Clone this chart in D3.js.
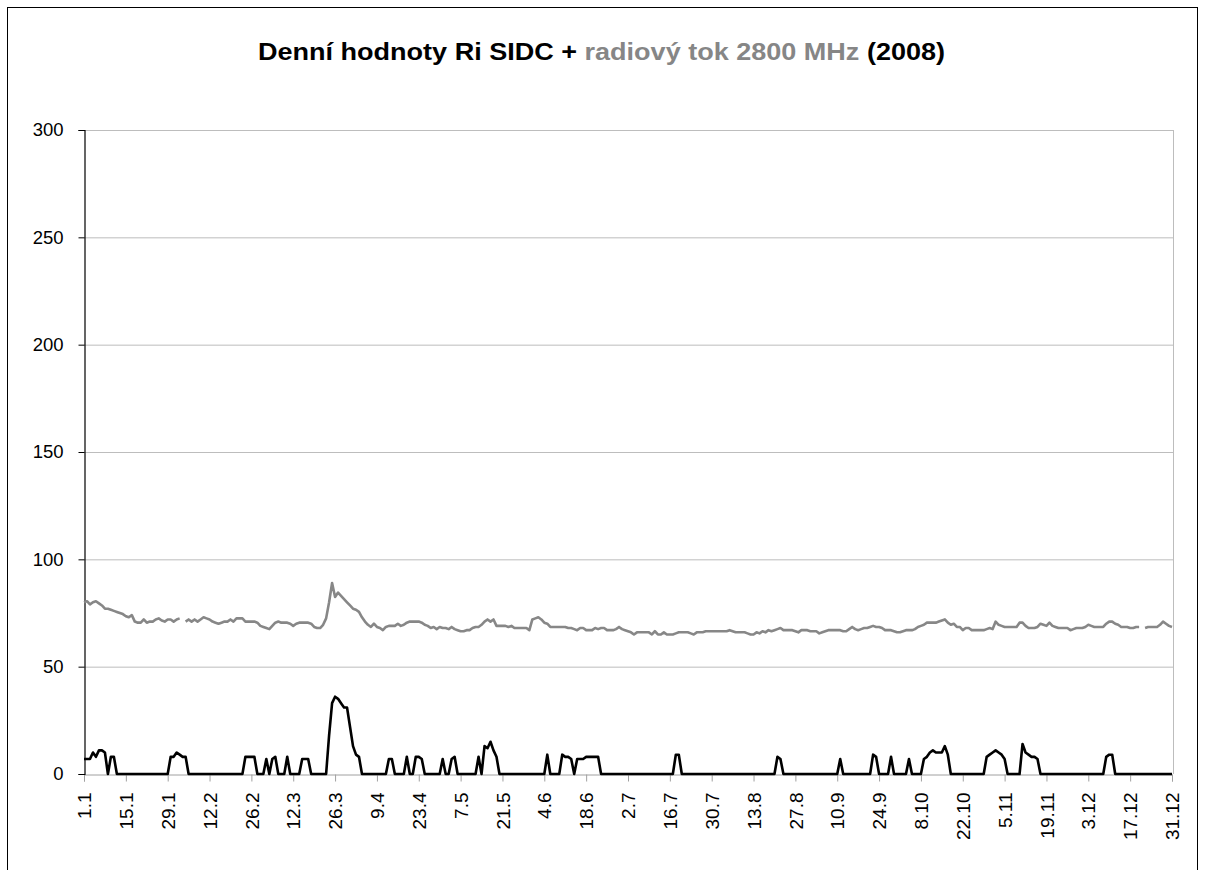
<!DOCTYPE html>
<html>
<head>
<meta charset="utf-8">
<script src="https://cdnjs.cloudflare.com/ajax/libs/d3/7.8.5/d3.min.js"></script>
<style>
  body { margin: 0; background: #fff; }
  svg { display: block; font-family: "Liberation Sans", Arial, sans-serif; }
</style>
</head>
<body>
<div id="chart"></div>
<script>
// days per month, the sheet has 365 rows
var month_days = [31, 28, 31, 30, 31, 30, 31, 31, 30, 31, 30, 31];

// daily Ri SIDC, one row per month
var ri_sidc = [].concat(
  [7,7,7,10,8,11,11,10,0,8, 8,0,0,0,0,0,0,0,0,0, 0,0,0,0,0,0,0,0,0,8, 8],
  [10,9,8,8,0,0,0,0,0,0, 0,0,0,0,0,0,0,0,0,0, 0,0,0,8,8,8,8,0],
  [0,0,7,0,7,8,0,0,0,8, 0,0,0,0,7,7,7,0,0,0, 0,0,0,18,33,36,35,33,31,31, 22],
  [13,9,8,0,0,0,0,0,0,0, 0,0,7,7,0,0,0,0,8,0, 0,8,8,7,0,0,0,0,0,0],
  [7,0,0,7,8,0,0,0,0,0, 0,0,8,0,13,12,15,11,8,0, 0,0,0,0,0,0,0,0,0,0, 0],
  [0,0,0,0,9,0,0,0,0,9, 8,8,7,0,7,7,7,8,8,8, 8,8,0,0,0,0,0,0,0,0],
  [0,0,0,0,0,0,0,0,0,0, 0,0,0,0,0,0,0,9,9,0, 0,0,0,0,0,0,0,0,0,0, 0],
  [0,0,0,0,0,0,0,0,0,0, 0,0,0,0,0,0,0,0,0,0, 8,7,0,0,0,0,0,0,0,0, 0],
  [0,0,0,0,0,0,0,0,0,0, 7,0,0,0,0,0,0,0,0,0, 0,9,8,0,0,0,0,8,0,0],
  [0,0,0,7,0,0,0,0,7,8, 10,11,10,10,10,13,9,0,0,0, 0,0,0,0,0,0,0,0,0,8, 9],
  [10,11,10,9,7,0,0,0,0,0, 14,10,9,8,8,7,0,0,0,0, 0,0,0,0,0,0,0,0,0,0],
  [0,0,0,0,0,0,0,0,8,9, 9,0,0,0,0,0,0,0,0,0, 0,0,0,0,0,0,0,0,0,0, 0]
);

// daily radio flux 2800 MHz (null = missing day)
var radio_flux = [].concat(
  [80,80.5,79,80,80.5,79.5,78.5,77,77,76.5, 76,75.5,75,74.5,73.5,73,74,71,70.5,70.5, 72,70.5,71,71,72,72.5,71.5,71,72,72, 71],
  [72,72.5,null,71,72,71,72,71,72,73, 72.5,72,71,70.5,70,70.5,71,71,72,71, 72.5,72.5,72.5,71,71,71,71,70.5],
  [69,68.5,68,67.5,69,70.5,71,70.5,70.5,70.5, 70,69,70,70.5,70.5,70.5,70.5,70,68.5,68, 68,69.5,72.5,80,89,82.5,84.5,83,81.5,80, 78.5],
  [77,76.5,75.5,73,71,69.5,68.5,70,68.5,68, 67,68.5,69,69,69,70,69,69.5,70.5,71, 71,71,71,70.5,69.5,69,68,68.5,67.5,68.5],
  [68,68,67.5,68.5,67.5,67,66.5,66.5,67,67, 68,68.5,68.5,69.5,71,72,71,72,69,69, 69,69,68.5,69,68,68,68,68,68,67, 72],
  [72.5,73,72,70.5,70,68.5,68.5,68.5,68.5,68.5, 68.5,68,68,67.5,67,68,68,67,67,67, 68,67.5,68,68,67,67,67,67.5,68.5,67.5],
  [67,66.5,66,65,66,66,66,66,66,65, 66.5,65,65,66,65,65,65,65.5,66,66, 66,66,65.5,65,66,66,66,66.5,66.5,66.5, 66.5],
  [66.5,66.5,66.5,66.5,67,66.5,66,66,66,66, 65.5,65,65,66,65.5,66.5,66,67,66.5,67, 67.5,68,67,67,67,67,66.5,66,67,67, 67],
  [66.5,66.5,66.5,65.5,66,66.5,67,67,67,67, 67,66.5,66.5,67.5,68.5,67.5,67,67.5,68,68, 68.5,69,68.5,68.5,68,67,67,67,66.5,66],
  [66,66.5,67,67,67,67.5,68.5,69,69.5,70.5, 70.5,70.5,70.5,71,71.5,72,70.5,69.5,70,68.5, 68.5,67,68,68,67,67,67,67,67,67.5, 68],
  [67.5,71,69.5,69,68.5,68.5,68.5,68.5,68.5,70.5, 70.5,69,68,68,68,68.5,70,69.5,69,70.5, 69,68.5,68,68,68,68,67,67.5,68,68],
  [68,68.5,69.5,69,68.5,68.5,68.5,68.5,70,71, 71,70,69.5,68.5,68.5,68.5,68,68,68.5,68.5, null,68,68.5,68.5,68.5,68.5,69.5,71,70,69, 68.5]
);

var y_ticks = [0, 50, 100, 150, 200, 250, 300];
var label_step = 14;

var chart_width = 1206, chart_height = 870;
var plot_left = 84, plot_right = 1172, plot_top = 130, plot_bottom = 774;

// category names d.m
var dates = [];
month_days.forEach(function(n, m) {
  for (var d = 1; d <= n; d++) dates.push(d + '.' + (m + 1));
});
var label_dates = dates.filter(function(d, i) { return i % label_step === 0; });

var svg = d3.select('#chart')
  .append('svg')
  .attr('width', chart_width)
  .attr('height', chart_height);

svg.append('rect')
  .attr('width', chart_width).attr('height', chart_height)
  .attr('fill', '#fff');

// outer frame (bottom edge is outside the picture)
svg.append('rect')
  .attr('x', 7.5).attr('y', 7.5)
  .attr('width', 1190).attr('height', 900)
  .attr('fill', 'none')
  .attr('stroke', '#000')
  .attr('stroke-width', 1);

var x_scale = d3.scalePoint()
  .domain(dates)
  .range([plot_left, plot_right]);

var y_scale = d3.scaleLinear()
  .domain([0, 300])
  .range([plot_bottom, plot_top]);

// grid
svg.append('g')
  .attr('class', 'grid')
  .selectAll('line')
  .data(y_ticks.filter(function(t) { return t > 0; }))
  .enter()
  .append('line')
  .attr('x1', plot_left).attr('x2', plot_right + 1)
  .attr('y1', function(d) { return y_scale(d) + 0.5; })
  .attr('y2', function(d) { return y_scale(d) + 0.5; })
  .attr('stroke', '#bdbdbd')
  .attr('stroke-width', 1);

// right border of plot area
svg.append('line')
  .attr('x1', plot_right + 1.5).attr('x2', plot_right + 1.5)
  .attr('y1', plot_top).attr('y2', plot_bottom)
  .attr('stroke', '#bdbdbd');

// x axis
var x_axis = d3.axisBottom(x_scale)
  .tickValues(label_dates)
  .tickSize(7);

var gx = svg.append('g')
  .attr('transform', 'translate(0,' + (plot_bottom + 0.5) + ')')
  .call(x_axis);
gx.select('.domain').attr('stroke', '#a0a0a0');
gx.selectAll('.tick line').attr('stroke', '#a0a0a0');
gx.selectAll('.tick text')
  .attr('font-size', 19)
  .attr('font-family', '"Liberation Sans", Arial, sans-serif')
  .attr('fill', '#000')
  .attr('text-anchor', 'end')
  .attr('transform', 'rotate(-90)')
  .attr('x', -18)
  .attr('y', 0)
  .attr('dy', '0.35em');

// y axis
var y_axis = d3.axisLeft(y_scale)
  .tickValues(y_ticks)
  .tickSize(6)
  .tickPadding(15);

var gy = svg.append('g')
  .attr('transform', 'translate(' + (plot_left + 0.5) + ',0)')
  .call(y_axis);
gy.select('.domain').attr('stroke', '#000').attr('stroke-width', 1.2);
gy.selectAll('.tick line').attr('stroke', '#000');
gy.selectAll('.tick text')
  .attr('font-size', 18.5)
  .attr('font-family', '"Liberation Sans", Arial, sans-serif')
  .attr('fill', '#000');

// series
var line = d3.line()
  .defined(function(d) { return d != null; })
  .x(function(d, i) { return x_scale(dates[i]); })
  .y(function(d) { return y_scale(d); });

svg.append('path')
  .datum(radio_flux)
  .attr('d', line)
  .attr('fill', 'none')
  .attr('stroke', '#878787')
  .attr('stroke-width', 2.6)
  .attr('stroke-linejoin', 'round');

svg.append('path')
  .datum(ri_sidc)
  .attr('d', line)
  .attr('fill', 'none')
  .attr('stroke', '#000')
  .attr('stroke-width', 2.6)
  .attr('stroke-linejoin', 'round');

// title, stretched to the width it has in the picture
var title = svg.append('text')
  .attr('x', 258)
  .attr('y', 60)
  .attr('font-size', 23)
  .attr('font-weight', 'bold')
  .attr('textLength', 687)
  .attr('lengthAdjust', 'spacingAndGlyphs');
title.append('tspan').attr('fill', '#000').text('Denní hodnoty Ri SIDC + ');
title.append('tspan').attr('fill', '#868686').text('radiový tok 2800 MHz');
title.append('tspan').attr('fill', '#000').text(' (2008)');
</script>
</body>
</html>
